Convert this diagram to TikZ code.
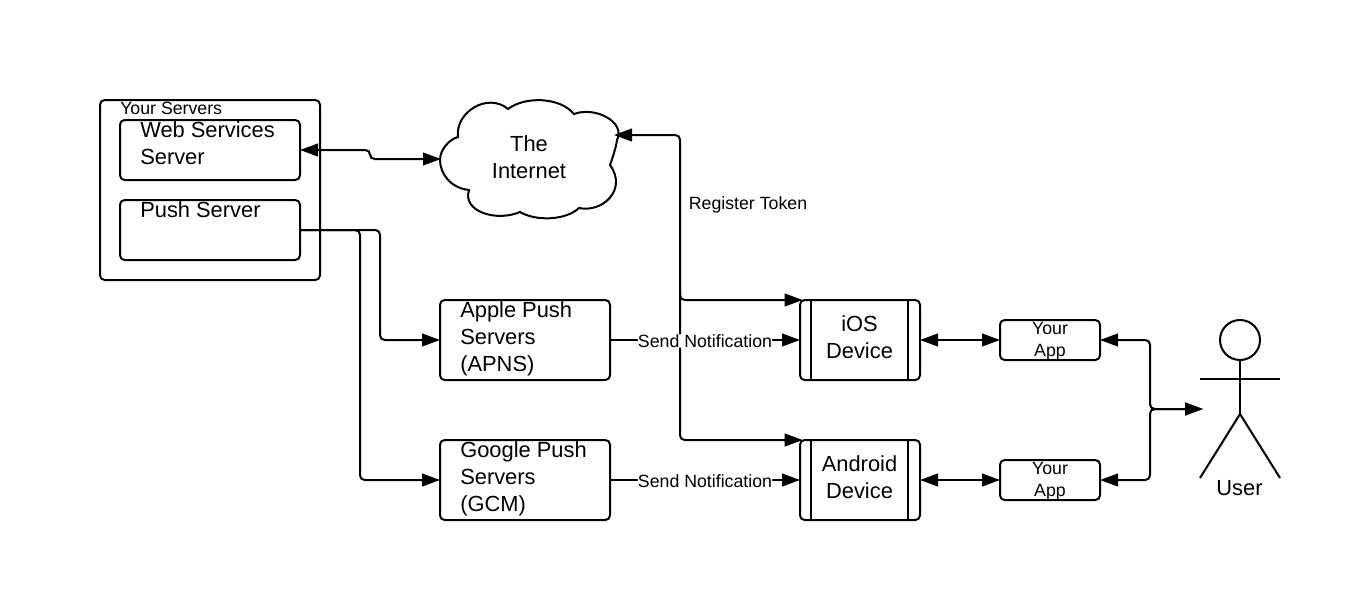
\documentclass[tikz,border=0pt]{standalone}
\usepackage{fontspec}
\setmainfont{Liberation Sans}
\usetikzlibrary{arrows.meta,calc}

\tikzset{
    bigtext/.style={font=\fontsize{16.4}{20}\selectfont, inner sep=0pt},
    smalltext/.style={font=\fontsize{13.3}{16.5}\selectfont, inner sep=0pt},
    box/.style={draw, line width=1.5pt, rounded corners=3.5pt, outer sep=0pt, inner sep=0pt},
    link/.style={line width=1.5pt, rounded corners=3.5pt, -{Triangle[length=13.5pt,width=9.5pt]}},
    twoway/.style={link, {Triangle[length=13.5pt,width=9.5pt]}-{Triangle[length=13.5pt,width=9.5pt]}},
    figure/.style={line width=1.5pt},
    msg/.style={smalltext, fill=white, yshift=-0.75pt}
}

\begin{document}
\begin{tikzpicture}[x=0.75pt,y=-0.75pt]
    \useasboundingbox[fill=white] (0,0) rectangle (1372,614);

    \node[box, minimum width=165pt, minimum height=135pt] (servers) at (210,190) {};
    \node[smalltext, anchor=west] (serverstext) at (120,108) {Your Servers};
    \node[box, minimum width=135pt, minimum height=45pt] (web) at (210,150) {};
    \node[bigtext, align=left, anchor=west] (webtext) at (140,143) {Web Services\\Server};
    \node[box, minimum width=135pt, minimum height=45pt] (push) at (210,230) {};
    \node[bigtext, anchor=west] (pushtext) at (140,210) {Push Server};

    \draw[line width=1.5pt] (440,160)
        .. controls (440,149) and (450,139) .. (458,137)
        .. controls (455,112) and (488,92) .. (508,109)
        .. controls (525,96) and (560,97) .. (574,114)
        .. controls (595,106) and (626,122) .. (617,140)
        .. controls (616,147) and (613,157) .. (610,165)
        .. controls (628,190) and (602,213) .. (579,208)
        .. controls (565,221) and (535,221) .. (520,212)
        .. controls (497,222) and (462,212) .. (469,190)
        .. controls (450,188) and (440,173) .. (440,160) -- cycle;
    \node[bigtext, align=center] (internet) at (529,157) {The\\Internet};
    \coordinate (internetw) at (441,159);
    \coordinate (internete) at (614,135);

    \node[box, minimum width=127.5pt, minimum height=60pt] (apns) at (525,340) {};
    \node[bigtext, align=left, anchor=west] (apnstext) at (460,339) {Apple Push\\Servers\\(APNS)};
    \node[box, minimum width=127.5pt, minimum height=60pt] (gcm) at (525,480) {};
    \node[bigtext, align=left, anchor=west] (gcmtext) at (460,479) {Google Push\\Servers\\(GCM)};

    \node[box, minimum width=90pt, minimum height=60pt] (ios) at (860,340) {};
    \node[bigtext, align=center] (iostext) at (859.5,337) {iOS\\Device};
    \node[box, minimum width=90pt, minimum height=60pt] (android) at (860,480) {};
    \node[bigtext, align=center] (androidtext) at (859.5,477) {Android\\Device};
    \foreach \dev in {ios,android} {
        \draw[line width=1.5pt] ($(\dev.north west)+(11,0)$) -- ($(\dev.south west)+(11,0)$);
        \draw[line width=1.5pt] ($(\dev.north east)+(-12,0)$) -- ($(\dev.south east)+(-12,0)$);
    }

    \node[box, minimum width=75pt, minimum height=30pt] (appone) at (1050,340) {};
    \node[smalltext, align=center] (apponetext) at (1050,341) {Your\\App};
    \node[box, minimum width=75pt, minimum height=30pt] (apptwo) at (1050,480) {};
    \node[smalltext, align=center] (apptwotext) at (1050,481) {Your\\App};

    \node[draw, figure, circle, minimum size=30pt, inner sep=0pt, outer sep=0pt] (head) at (1240,340) {};
    \coordinate (hip) at (1240,414);
    \coordinate (armleft) at (1200,379);
    \coordinate (armright) at (1280,379);
    \coordinate (footleft) at (1200,478);
    \coordinate (footright) at (1280,478);
    \draw[figure] (head) -- (hip);
    \draw[figure] (armleft) -- (armright);
    \draw[figure] (footleft) -- (hip) -- (footright);
    \node[bigtext] (user) at (1239.5,488) {User};
    \coordinate (userw) at (1203,409);

    \draw[twoway] (web.east) -- (370,150) -- (370,159) -- (internetw);
    \draw[link] (push.east) -- (380,230) -- (380,340) -- (apns.west);
    \draw[link] (push.east) -- (360,230) -- (360,480) -- (gcm.west);

    \draw[twoway, shorten >=-2pt] (internete) -- (680,135) -- (680,300) -- (ios.north west);
    \draw[link, shorten >=-2pt] (680,290) -- (680,440) -- (android.north west);
    \node[smalltext] (register) at (748,205) {Register Token};

    \draw[link] (apns.east) -- node[msg] (sendone) {Send Notification} (ios.west);
    \draw[link] (gcm.east) -- node[msg] (sendtwo) {Send Notification} (android.west);

    \draw[twoway] (ios.east) -- (appone.west);
    \draw[twoway] (android.east) -- (apptwo.west);
    \draw[twoway] (appone.east) -- (1150,340) -- (1150,409) -- (userw);
    \draw[twoway] (apptwo.east) -- (1150,480) -- (1150,409) -- (userw);
\end{tikzpicture}
\end{document}
